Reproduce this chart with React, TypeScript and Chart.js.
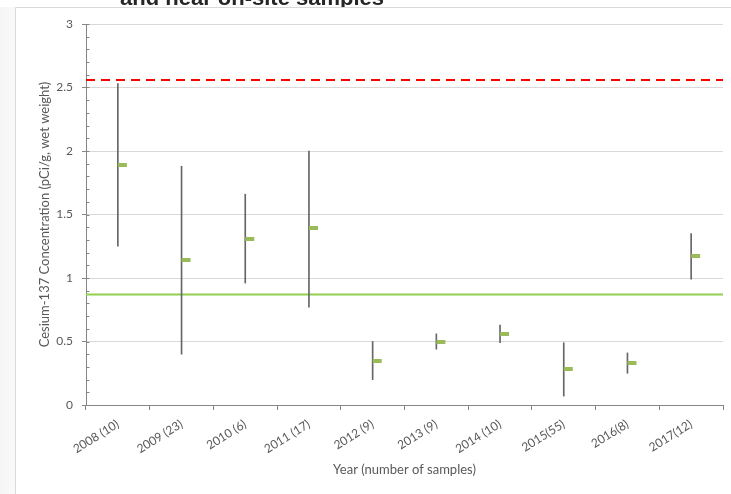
import React, { useEffect, useRef } from "react";
import { Chart, registerables } from "chart.js";

Chart.register(...registerables);

const categories = ["2008 (10)", "2009 (23)", "2010 (6)", "2011 (17)", "2012 (9)", "2013 (9)", "2014 (10)", "2015(55)", "2016(8)", "2017(12)"];
const minValues = [1.25, 0.40, 0.96, 0.77, 0.20, 0.44, 0.49, 0.07, 0.25, 0.99];
const maxValues = [2.53, 1.88, 1.66, 2.00, 0.50, 0.56, 0.63, 0.49, 0.41, 1.35];
const meanValues = [1.89, 1.14, 1.31, 1.39, 0.35, 0.50, 0.56, 0.28, 0.33, 1.17];
const upperLevel = 2.56;
const backgroundLevel = 0.87;
const yMin = 0;
const yMax = 3;
const yStep = 0.5;
const yMinorStep = 0.1;
const titleText = "and near on-site samples";
const yTitle = "Cesium-137 Concentration (pCi/g, wet weight)";
const xTitle = "Year (number of samples)";

const FONT = "Lato, 'Open Sans', sans-serif";
const TEXT = "#595959";
const AXIS = "#868686";

function makeMarker(): HTMLCanvasElement {
  const c = document.createElement("canvas");
  c.width = 20;
  c.height = 4;
  const g = c.getContext("2d")!;
  g.fillStyle = "#9bbb59";
  g.fillRect(10, 0, 9, 4);
  return c;
}

const decorPlugin = {
  id: "decor",
  beforeDraw(chart: any) {
    const { ctx, width, height } = chart;
    ctx.save();
    ctx.fillStyle = "#ffffff";
    ctx.fillRect(0, 0, width, height);
    const g = ctx.createLinearGradient(0, 0, 15, 0);
    g.addColorStop(0, "#f5f5f5");
    g.addColorStop(1, "#fafafa");
    ctx.fillStyle = g;
    ctx.fillRect(0, 7, 15, height);
    ctx.font = "bold 22px 'Liberation Sans', Arial, sans-serif";
    ctx.fillStyle = "#262626";
    ctx.textBaseline = "alphabetic";
    ctx.textAlign = "left";
    ctx.fillText(titleText, 120, 5);
    ctx.fillStyle = "#ffffff";
    ctx.fillRect(15, 7, width, height);
    ctx.strokeStyle = "#d9d9d9";
    ctx.lineWidth = 1;
    ctx.beginPath();
    ctx.moveTo(15.5, height);
    ctx.lineTo(15.5, 7.5);
    ctx.lineTo(width, 7.5);
    ctx.stroke();
    ctx.restore();
  },
  beforeDatasetsDraw(chart: any) {
    const { ctx, chartArea, scales } = chart;
    const y = scales.y;
    ctx.save();
    const yr = y.getPixelForValue(upperLevel);
    ctx.strokeStyle = "#ff0000";
    ctx.lineWidth = 2;
    ctx.setLineDash([9, 6]);
    ctx.beginPath();
    ctx.moveTo(chartArea.left, yr);
    ctx.lineTo(chartArea.right, yr);
    ctx.stroke();
    ctx.setLineDash([]);
    const yg = y.getPixelForValue(backgroundLevel);
    ctx.strokeStyle = "#92d050";
    ctx.lineWidth = 2;
    ctx.beginPath();
    ctx.moveTo(chartArea.left, yg);
    ctx.lineTo(chartArea.right, yg);
    ctx.stroke();
    ctx.restore();
  },
  afterDraw(chart: any) {
    const { ctx, scales } = chart;
    const y = scales.y;
    const x0 = Math.round(y.right) + 0.5;
    ctx.save();
    ctx.strokeStyle = AXIS;
    ctx.lineWidth = 1;
    ctx.beginPath();
    const n = Math.round((yMax - yMin) / yMinorStep);
    for (let i = 0; i <= n; i++) {
      const v = yMin + i * yMinorStep;
      const py = Math.round(y.getPixelForValue(v)) + 0.5;
      ctx.moveTo(x0, py);
      ctx.lineTo(x0 + 3, py);
    }
    ctx.stroke();
    ctx.restore();
  },
};

export default function App() {
  const ref = useRef<HTMLCanvasElement | null>(null);
  useEffect(() => {
    if (!ref.current) return;
    const marker = makeMarker();
    const chart = new Chart(ref.current, {
      type: "bar",
      data: {
        labels: categories,
        datasets: [
          {
            type: "bar",
            data: categories.map((_, i) => [minValues[i], maxValues[i]]) as any,
            backgroundColor: "#666666",
            borderWidth: 0,
            barThickness: 1,
            grouped: false,
            order: 2,
          } as any,
          {
            type: "line",
            data: meanValues,
            showLine: false,
            pointStyle: marker as any,
            pointRadius: 5,
            order: 1,
          } as any,
        ],
      },
      options: {
        animation: false,
        responsive: false,
        devicePixelRatio: 1,
        layout: { padding: { top: 24, right: 8, left: 0, bottom: 0 } },
        plugins: {
          legend: { display: false },
          tooltip: { enabled: false },
          title: { display: false },
        },
        scales: {
          x: {
            type: "category",
            offset: true,
            grid: {
              display: true,
              drawOnChartArea: false,
              drawTicks: true,
              tickLength: 5,
              color: AXIS,
              offset: true,
            },
            border: { display: true, color: AXIS, width: 1 },
            ticks: {
              autoSkip: false,
              minRotation: 32,
              maxRotation: 32,
              color: TEXT,
              padding: 7,
              font: { family: FONT, size: 12 },
            },
            title: {
              display: true,
              text: xTitle,
              color: TEXT,
              font: { family: FONT, size: 13 },
              padding: { top: 4, bottom: 16 },
            },
            afterFit: (s: any) => {
              s.height = 89;
            },
          } as any,
          y: {
            type: "linear",
            min: yMin,
            max: yMax,
            ticks: {
              stepSize: yStep,
              color: TEXT,
              padding: 9,
              font: { family: FONT, size: 12 },
              callback: (v: any) => String(v),
            },
            grid: {
              color: (c: any) => (c.tick && c.tick.value === 0 ? "rgba(0,0,0,0)" : "#d9d9d9"),
              tickColor: AXIS,
              tickLength: 4,
              drawTicks: true,
            },
            border: { display: true, color: AXIS, width: 1 },
            title: {
              display: true,
              text: yTitle,
              color: TEXT,
              font: { family: FONT, size: 13 },
              padding: { top: 37, bottom: 0 },
            },
            afterFit: (s: any) => {
              s.width = 86;
            },
          } as any,
        },
      },
      plugins: [decorPlugin],
    });
    return () => chart.destroy();
  }, []);
  return (
    <div style={{ position: "absolute", left: 0, top: 0, width: 731, height: 494 }}>
      <canvas ref={ref} width={731} height={494} style={{ display: "block" }} />
    </div>
  );
}
